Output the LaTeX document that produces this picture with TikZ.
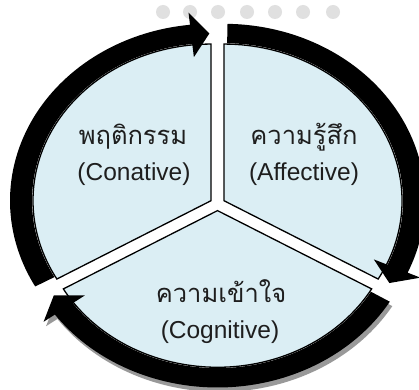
\documentclass[tikz,border=0pt]{standalone}
\usepackage{fontspec}
\setmainfont{Liberation Sans}
\newfontfamily\thaifont[Script=Thai]{Loma}
\definecolor{piefill}{RGB}{219,238,244}
\definecolor{txt}{RGB}{30,30,30}
% arrow band along the circle: [style] tail angle, head-base angle, tip angle
\newcommand\cycarrow[4][cyc]{\fill[#1] (#2:201) arc[start angle=#2,end angle=#3,radius=201] -- (#3:215) -- (#4:190) -- (#3:164) -- (#3:179) arc[start angle=#3,end angle=#2,radius=179] -- cycle;}
\begin{document}
\begin{tikzpicture}[x=1pt,y=1pt,
  pie/.style={fill=piefill,draw=black,line width=1.3pt,line join=miter},
  cyc/.style={fill=black},
  shadowfill/.style={fill=black!40},
  wdot/.style={fill=black!12},
  lab/.style={anchor=base,text=txt,font=\fontsize{24.5}{28}\selectfont},
  thlab/.style={anchor=base,text=txt,font=\thaifont\fontsize{25.5}{30}\selectfont}]
\useasboundingbox (0,0) rectangle (419,389);
\fill[white] (0,0) rectangle (419,389);
% faint watermark dots
\foreach \x in {163,190,218,247,275,303,333}{\fill[wdot] (\x,377) circle[radius=7];}
\begin{scope}[shift={(217.5,185)},yscale=0.88]
  \begin{scope}[shift={(150:7.5)}]
    \draw[pie] (0,0) -- (90:178) arc[start angle=90,end angle=210,radius=178] -- cycle;
    \cycarrow{209}{96}{90.5}
  \end{scope}
  \begin{scope}[shift={(30:7.5)}]
    \draw[pie] (0,0) -- (-30:178) arc[start angle=-30,end angle=90,radius=178] -- cycle;
    \cycarrow{89}{-24}{-29.5}
  \end{scope}
  \begin{scope}[shift={(270:7.5)}]
    \begin{scope}[shift={(2.5,-5)}]\cycarrow[shadowfill]{329}{216}{210.5}\end{scope}
    \draw[pie] (0,0) -- (210:178) arc[start angle=210,end angle=330,radius=178] -- cycle;
    \cycarrow{329}{216}{210.5}
  \end{scope}
\end{scope}
\node[thlab] (conth) at (133,245) {พฤติกรรม};
\node[lab] (conen) at (134,209) {(Conative)};
\node[thlab] (affth) at (304,245) {ความรู้สึก};
\node[lab] (affen) at (304,209) {(Affective)};
\node[thlab] (cogth) at (221,87) {ความเข้าใจ};
\node[lab] (cogen) at (220,51) {(Cognitive)};
\end{tikzpicture}
\end{document}
